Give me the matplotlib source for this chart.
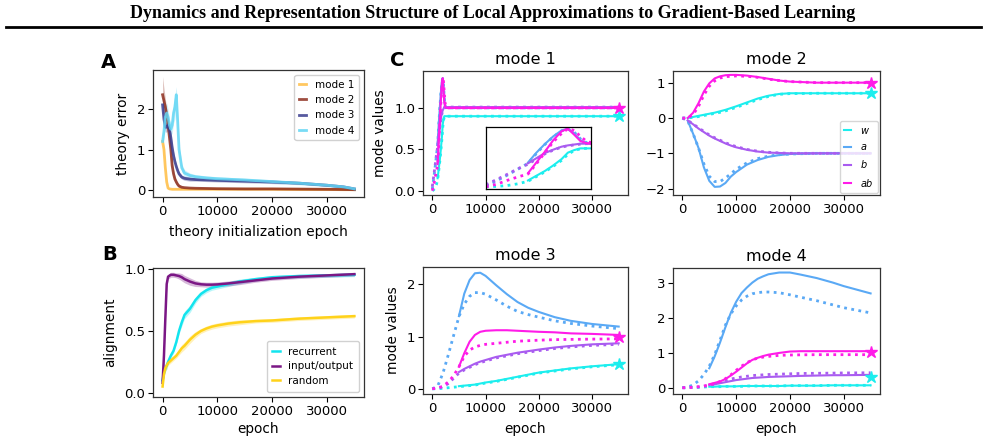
import matplotlib
matplotlib.use("Agg")
import matplotlib.pyplot as plt
from matplotlib.lines import Line2D
import numpy as np

# ---------------- data ----------------
# Panel A: theory error vs theory initialization epoch
epochs_A = [0, 250, 500, 750, 1000, 1250, 1500, 1750, 2000, 2250, 2500, 2750, 3000,
            3500, 4000, 5000, 6000, 8000, 10000, 15000, 20000, 25000, 30000, 33000, 35000]
err_mode1 = [1.2, 1.0, 0.55, 0.2, 0.05, 0.03, 0.025, 0.02, 0.02, 0.02, 0.02, 0.02, 0.02,
             0.02, 0.02, 0.02, 0.02, 0.02, 0.02, 0.02, 0.02, 0.015, 0.015, 0.01, 0.01]
err_mode2 = [2.35, 2.2, 2.05, 1.85, 1.6, 1.3, 1.0, 0.6, 0.4, 0.27, 0.2, 0.14, 0.1,
             0.07, 0.06, 0.05, 0.045, 0.04, 0.035, 0.03, 0.03, 0.025, 0.02, 0.015, 0.01]
err_mode3 = [2.1, 1.75, 1.55, 1.55, 1.6, 1.5, 1.3, 1.05, 0.85, 0.7, 0.58, 0.48, 0.4,
             0.32, 0.29, 0.27, 0.26, 0.25, 0.24, 0.22, 0.2, 0.17, 0.12, 0.08, 0.03]
err_mode4 = [1.2, 1.45, 1.8, 1.9, 1.8, 1.6, 1.5, 1.6, 1.9, 2.05, 2.35, 1.7, 1.0,
             0.55, 0.42, 0.36, 0.33, 0.3, 0.28, 0.25, 0.21, 0.17, 0.12, 0.08, 0.03]
sd_mode1 = [0.1, 0.1, 0.08, 0.05, 0.02, 0.01, 0.01, 0.01, 0.01, 0.01, 0.01, 0.01, 0.01,
            0.01, 0.01, 0.01, 0.01, 0.01, 0.01, 0.01, 0.01, 0.01, 0.01, 0.01, 0.01]
sd_mode2 = [0.45, 0.3, 0.2, 0.15, 0.15, 0.15, 0.15, 0.12, 0.1, 0.08, 0.06, 0.05, 0.04,
            0.03, 0.02, 0.02, 0.02, 0.02, 0.02, 0.02, 0.02, 0.02, 0.02, 0.02, 0.01]
sd_mode3 = [0.2, 0.15, 0.12, 0.12, 0.12, 0.12, 0.12, 0.1, 0.1, 0.09, 0.08, 0.07, 0.06,
            0.05, 0.05, 0.05, 0.04, 0.04, 0.04, 0.04, 0.04, 0.03, 0.03, 0.02, 0.02]
sd_mode4 = [0.15, 0.2, 0.25, 0.25, 0.2, 0.15, 0.15, 0.2, 0.25, 0.3, 0.2, 0.2, 0.15,
            0.1, 0.08, 0.06, 0.05, 0.05, 0.05, 0.04, 0.04, 0.04, 0.03, 0.03, 0.02]
modes_A = ["mode 1", "mode 2", "mode 3", "mode 4"]

# Panel B: alignment vs epoch
epochs_B = [0, 250, 500, 750, 1000, 1500, 2000, 2500, 3000, 3500, 4000, 5000, 6000, 7000,
            8000, 9000, 10000, 12000, 14000, 17000, 20000, 25000, 30000, 35000]
align_recurrent = [0.1, 0.16, 0.2, 0.22, 0.25, 0.3, 0.34, 0.41, 0.5, 0.57, 0.63, 0.68, 0.75,
                   0.8, 0.83, 0.85, 0.86, 0.88, 0.9, 0.92, 0.935, 0.945, 0.95, 0.955]
align_inout = [0.08, 0.3, 0.6, 0.88, 0.94, 0.955, 0.955, 0.95, 0.945, 0.935, 0.92, 0.9, 0.885,
               0.878, 0.875, 0.875, 0.877, 0.885, 0.895, 0.91, 0.925, 0.94, 0.95, 0.96]
align_random = [0.05, 0.15, 0.2, 0.22, 0.24, 0.26, 0.28, 0.3, 0.33, 0.36, 0.38, 0.43, 0.47,
                0.5, 0.52, 0.535, 0.545, 0.56, 0.57, 0.58, 0.585, 0.6, 0.61, 0.62]
align_sd = [0.02, 0.03, 0.03, 0.03, 0.02, 0.02, 0.02, 0.02, 0.025, 0.03, 0.03, 0.03, 0.025,
            0.02, 0.02, 0.02, 0.02, 0.02, 0.02, 0.015, 0.015, 0.015, 0.015, 0.015]
series_B = ["recurrent", "input/output", "random"]

# Panel C: mode values (theory = dotted, from epoch 0; simulation = solid)
var_names = ["w", "a", "b", "ab"]

m1_ep_th = [0, 250, 500, 750, 1000, 1200, 1400, 1600, 1800, 1950, 2100, 2250, 2400, 2600, 3000, 35000]
m1_th = {
    "w":  [0.0, 0.01, 0.03, 0.07, 0.13, 0.24, 0.35, 0.48, 0.62, 0.76, 0.85, 0.89, 0.9, 0.9, 0.9, 0.9],
    "a":  [0.02, 0.14, 0.27, 0.41, 0.55, 0.78, 0.99, 1.17, 1.31, 1.35, 1.28, 1.12, 1.03, 1.0, 1.0, 1.0],
    "b":  [0.05, 0.17, 0.29, 0.42, 0.53, 0.65, 0.77, 0.86, 0.93, 0.96, 0.98, 1.0, 1.01, 1.01, 1.01, 1.01],
    "ab": [0.0, 0.06, 0.15, 0.23, 0.3, 0.54, 0.8, 1.05, 1.25, 1.36, 1.32, 1.18, 1.06, 1.01, 1.0, 1.0],
}
m1_ep_sim = [1000, 1200, 1400, 1600, 1800, 1950, 2100, 2250, 2400, 2600, 3000, 35000]
m1_sim = {
    "w":  [0.15, 0.26, 0.37, 0.5, 0.65, 0.8, 0.86, 0.9, 0.9, 0.9, 0.9, 0.9],
    "a":  [0.57, 0.8, 1.0, 1.18, 1.32, 1.36, 1.25, 1.09, 1.02, 1.0, 1.0, 1.0],
    "b":  [0.55, 0.67, 0.79, 0.87, 0.94, 0.97, 0.99, 1.01, 1.01, 1.01, 1.01, 1.01],
    "ab": [0.32, 0.57, 0.82, 1.09, 1.3, 1.36, 1.22, 1.07, 1.02, 1.0, 1.0, 1.0],
}
m1_target = {"w": 0.9, "ab": 1.0}

m2_ep_th = [0, 1000, 2000, 3000, 4000, 5000, 6000, 7000, 8000, 9000, 10000, 12000, 14000,
            16000, 18000, 20000, 25000, 30000, 35000]
m2_th = {
    "w":  [0.0, 0.0, 0.02, 0.04, 0.07, 0.1, 0.13, 0.16, 0.2, 0.25, 0.3, 0.41, 0.52, 0.61, 0.67, 0.69, 0.7, 0.7, 0.7],
    "a":  [0.0, -0.08, -0.45, -0.85, -1.3, -1.65, -1.8, -1.8, -1.7, -1.58, -1.45, -1.27, -1.15, -1.08, -1.04, -1.02, -1.0, -1.0, -1.0],
    "b":  [0.0, -0.07, -0.17, -0.28, -0.38, -0.48, -0.56, -0.63, -0.7, -0.76, -0.81, -0.89, -0.94, -0.97, -0.99, -1.0, -1.0, -1.0, -1.0],
    "ab": [0.0, 0.0, 0.1, 0.33, 0.65, 0.9, 1.05, 1.13, 1.17, 1.18, 1.19, 1.18, 1.15, 1.1, 1.06, 1.03, 1.0, 1.0, 1.0],
}
m2_ep_sim = [1000, 2000, 3000, 4000, 5000, 6000, 7000, 8000, 9000, 10000, 12000, 14000,
             16000, 18000, 20000, 25000, 30000, 35000]
m2_sim = {
    "w":  [0.0, 0.03, 0.06, 0.09, 0.12, 0.15, 0.19, 0.23, 0.28, 0.33, 0.44, 0.55, 0.63, 0.68, 0.7, 0.7, 0.7, 0.7],
    "a":  [-0.08, -0.45, -0.85, -1.4, -1.78, -1.95, -1.94, -1.84, -1.66, -1.53, -1.32, -1.19, -1.1, -1.05, -1.02, -1.0, -1.0, -1.0],
    "b":  [-0.07, -0.18, -0.3, -0.4, -0.5, -0.58, -0.65, -0.72, -0.78, -0.83, -0.9, -0.95, -0.98, -0.99, -1.0, -1.0, -1.0, -1.0],
    "ab": [0.0, 0.15, 0.42, 0.75, 0.98, 1.12, 1.18, 1.21, 1.22, 1.22, 1.2, 1.16, 1.11, 1.06, 1.03, 1.0, 1.0, 1.0],
}
m2_target = {"w": 0.7, "ab": 1.0}

m3_ep_th = [0, 1000, 2000, 3000, 4000, 5000, 6000, 7000, 8000, 9000, 10000, 12000, 14000,
            16000, 18000, 20000, 23000, 26000, 30000, 35000]
m3_th = {
    "w":  [0.0, 0.0, 0.01, 0.02, 0.03, 0.04, 0.05, 0.06, 0.07, 0.09, 0.11, 0.14, 0.18, 0.22, 0.26, 0.3, 0.34, 0.38, 0.42, 0.46],
    "a":  [0.0, 0.05, 0.3, 0.65, 1.02, 1.38, 1.62, 1.77, 1.84, 1.84, 1.81, 1.7, 1.58, 1.48, 1.42, 1.37, 1.3, 1.25, 1.2, 1.15],
    "b":  [0.0, 0.01, 0.04, 0.1, 0.2, 0.3, 0.36, 0.41, 0.46, 0.5, 0.53, 0.59, 0.63, 0.67, 0.7, 0.73, 0.77, 0.8, 0.83, 0.85],
    "ab": [0.0, 0.01, 0.05, 0.13, 0.25, 0.42, 0.62, 0.74, 0.8, 0.83, 0.85, 0.87, 0.89, 0.91, 0.92, 0.93, 0.94, 0.945, 0.95, 0.955],
}
m3_ep_sim = [5000, 6000, 7000, 8000, 9000, 10000, 12000, 14000, 16000, 18000, 20000, 23000,
             26000, 30000, 35000]
m3_sim = {
    "w":  [0.05, 0.06, 0.07, 0.08, 0.1, 0.12, 0.15, 0.19, 0.23, 0.27, 0.31, 0.35, 0.39, 0.43, 0.47],
    "a":  [1.39, 1.82, 2.08, 2.21, 2.22, 2.16, 1.98, 1.81, 1.66, 1.55, 1.47, 1.37, 1.3, 1.24, 1.19],
    "b":  [0.32, 0.38, 0.43, 0.48, 0.52, 0.55, 0.61, 0.65, 0.69, 0.72, 0.75, 0.79, 0.82, 0.85, 0.87],
    "ab": [0.42, 0.68, 0.9, 1.03, 1.09, 1.11, 1.12, 1.12, 1.11, 1.1, 1.09, 1.08, 1.06, 1.05, 1.03],
}
m3_target = {"w": 0.48, "ab": 1.0}

m4_ep_th = [0, 1000, 2000, 3000, 4000, 5000, 6000, 7000, 8000, 9000, 10000, 11000, 12000,
            13000, 14000, 15000, 16000, 18000, 20000, 22000, 25000, 28000, 30000, 35000]
m4_th = {
    "w":  [0.0, 0.0, 0.01, 0.01, 0.02, 0.03, 0.03, 0.03, 0.04, 0.04, 0.04, 0.04, 0.05, 0.05, 0.05, 0.05, 0.05, 0.05, 0.06, 0.06, 0.06, 0.07, 0.07, 0.07],
    "a":  [0.0, 0.02, 0.08, 0.2, 0.38, 0.62, 0.95, 1.37, 1.8, 2.12, 2.35, 2.52, 2.63, 2.7, 2.73, 2.75, 2.75, 2.73, 2.67, 2.6, 2.5, 2.38, 2.3, 2.15],
    "b":  [0.0, 0.0, 0.01, 0.02, 0.04, 0.07, 0.11, 0.16, 0.21, 0.25, 0.28, 0.31, 0.33, 0.35, 0.36, 0.37, 0.38, 0.39, 0.4, 0.41, 0.415, 0.42, 0.425, 0.43],
    "ab": [0.0, 0.0, 0.02, 0.03, 0.05, 0.08, 0.12, 0.18, 0.26, 0.37, 0.5, 0.62, 0.72, 0.8, 0.85, 0.88, 0.9, 0.93, 0.94, 0.945, 0.95, 0.95, 0.95, 0.95],
}
m4_ep_sim = [5000, 6000, 7000, 8000, 9000, 10000, 11000, 12000, 13000, 14000, 15000, 16000,
             18000, 20000, 22000, 25000, 28000, 30000, 35000]
m4_sim = {
    "w":  [0.03, 0.03, 0.04, 0.04, 0.04, 0.04, 0.05, 0.05, 0.05, 0.05, 0.05, 0.05, 0.05, 0.06, 0.06, 0.06, 0.07, 0.07, 0.07],
    "a":  [0.56, 0.9, 1.3, 1.74, 2.15, 2.47, 2.72, 2.88, 3.02, 3.13, 3.2, 3.26, 3.31, 3.31, 3.25, 3.15, 3.02, 2.92, 2.71],
    "b":  [0.08, 0.1, 0.13, 0.16, 0.19, 0.22, 0.24, 0.26, 0.28, 0.29, 0.3, 0.31, 0.32, 0.33, 0.34, 0.35, 0.36, 0.36, 0.37],
    "ab": [0.1, 0.14, 0.18, 0.25, 0.35, 0.46, 0.58, 0.7, 0.8, 0.86, 0.91, 0.95, 1.0, 1.04, 1.05, 1.05, 1.05, 1.05, 1.05],
}
m4_target = {"w": 0.3, "ab": 1.02}

target_epoch = 35000

# ---------------- styles ----------------
colors_A = ["#FFBE45", "#8E2F1F", "#3A3D8E", "#62D6F4"]
colors_B = ["#12E4EE", "#7B1785", "#FFD21A"]
colors_C = {"w": "#1CEEEE", "a": "#5AA9F5", "b": "#A95CF0", "ab": "#FF1BE8"}
labels_C = {"w": "$w$", "a": "$a$", "b": "$b$", "ab": "$ab$"}

W, H = 985, 443
fig = plt.figure(figsize=(W / 100, H / 100), dpi=100)


def rect(x0, y0, x1, y1):
    return [x0 / W, 1 - y1 / H, (x1 - x0) / W, (y1 - y0) / H]


TICK_FS = 9.5
LAB_FS = 9.8
XLIM = (-1750, 36750)
XT = [0, 10000, 20000, 30000]

# header
fig.text(0.5, 1 - 13 / H,
         "Dynamics and Representation Structure of Local Approximations to Gradient-Based Learning",
         ha="center", va="center", fontfamily="Liberation Serif", fontweight="bold", fontsize=13)
fig.add_artist(Line2D([6 / W, 981 / W], [1 - 27 / H, 1 - 27 / H], color="black", lw=2))

# panel letters
for letter, (px, py) in zip("ABC", [(108, 62), (110, 255), (397, 60)]):
    fig.text(px / W, 1 - py / H, letter, ha="center", va="center",
             fontsize=14, fontweight="heavy", fontfamily="DejaVu Sans")


def style(ax):
    ax.tick_params(labelsize=TICK_FS, length=3.5, width=0.8, pad=2)
    ax.set_xlim(*XLIM)
    ax.set_xticks(XT)
    for s in ax.spines.values():
        s.set_linewidth(0.9)
        s.set_color("#333333")


# ---- Panel A ----
axA = fig.add_axes(rect(153, 70, 364, 197))
errs = [err_mode1, err_mode2, err_mode3, err_mode4]
sds = [sd_mode1, sd_mode2, sd_mode3, sd_mode4]
for i in range(4):
    m = np.array(errs[i]); s = np.array(sds[i])
    axA.fill_between(epochs_A, m - s, m + s, color=colors_A[i], alpha=0.3, lw=0)
    axA.plot(epochs_A, m, color=colors_A[i], lw=2, alpha=0.85, label=modes_A[i])
style(axA)
axA.set_ylim(-0.17, 2.96)
axA.set_yticks([0, 1, 2])
axA.set_ylabel("theory error", fontsize=LAB_FS, labelpad=5)
axA.set_xlabel("theory initialization epoch", fontsize=LAB_FS, labelpad=5)
axA.legend(loc="upper right", fontsize=7.5, handlelength=0.7, handletextpad=0.8,
           borderpad=0.45, labelspacing=0.5, framealpha=0.9)

# ---- Panel B ----
axB = fig.add_axes(rect(153, 268, 364, 397))
aligns = [align_recurrent, align_inout, align_random]
sdB = np.array(align_sd)
for i in range(3):
    m = np.array(aligns[i])
    axB.fill_between(epochs_B, m - sdB, m + sdB, color=colors_B[i], alpha=0.3, lw=0)
    axB.plot(epochs_B, m, color=colors_B[i], lw=1.8, label=series_B[i])
style(axB)
axB.set_ylim(-0.035, 1.01)
axB.set_yticks([0.0, 0.5, 1.0])
axB.set_ylabel("alignment", fontsize=LAB_FS, labelpad=5)
axB.set_xlabel("epoch", fontsize=LAB_FS, labelpad=3.5)
axB.legend(loc="lower right", fontsize=7.5, handlelength=0.7, handletextpad=0.8,
           borderpad=0.55, labelspacing=0.45, framealpha=0.9)


# ---- Panel C ----
def draw_mode(ax, ep_th, th, ep_sim, sim, target, show_stars=True):
    for v in var_names:
        ax.plot(ep_th, th[v], color=colors_C[v], lw=2, linestyle=(0, (1, 1.6)))
        ax.plot(ep_sim, sim[v], color=colors_C[v], lw=1.5, label=labels_C[v])
    if show_stars:
        for v in ["w", "ab"]:
            ax.plot([target_epoch], [target[v]], marker="*", color=colors_C[v],
                    markersize=9, linestyle="none")


axC1 = fig.add_axes(rect(423, 71, 628, 195))
draw_mode(axC1, m1_ep_th, m1_th, m1_ep_sim, m1_sim, m1_target)
style(axC1)
axC1.set_ylim(-0.052, 1.446)
axC1.set_yticks([0.0, 0.5, 1.0])
axC1.set_ylabel("mode values", fontsize=LAB_FS, labelpad=5)
axC1.set_title("mode 1", fontsize=11.5, pad=5)

axIn = fig.add_axes(rect(486, 127, 591, 189))
draw_mode(axIn, m1_ep_th, m1_th, m1_ep_sim, m1_sim, m1_target, show_stars=False)
axIn.set_xlim(0, 2500)
axIn.set_ylim(-0.05, 1.4)
axIn.set_xticks([]); axIn.set_yticks([])
for s in axIn.spines.values():
    s.set_linewidth(0.9)

axC2 = fig.add_axes(rect(673, 71, 880, 195))
draw_mode(axC2, m2_ep_th, m2_th, m2_ep_sim, m2_sim, m2_target)
style(axC2)
axC2.set_ylim(-2.18, 1.33)
axC2.set_yticks([-2, -1, 0, 1])
axC2.set_title("mode 2", fontsize=11.5, pad=5)
axC2.legend(loc="lower right", fontsize=7, handlelength=0.7, handletextpad=0.9,
            borderpad=0.45, labelspacing=0.65, framealpha=0.8, borderaxespad=0.2)

axC3 = fig.add_axes(rect(423, 267, 628, 394))
draw_mode(axC3, m3_ep_th, m3_th, m3_ep_sim, m3_sim, m3_target)
style(axC3)
axC3.set_ylim(-0.1, 2.33)
axC3.set_yticks([0, 1, 2])
axC3.set_ylabel("mode values", fontsize=LAB_FS, labelpad=5)
axC3.set_xlabel("epoch", fontsize=LAB_FS, labelpad=5)
axC3.set_title("mode 3", fontsize=11.5, pad=5)

axC4 = fig.add_axes(rect(673, 268, 880, 394))
draw_mode(axC4, m4_ep_th, m4_th, m4_ep_sim, m4_sim, m4_target)
style(axC4)
axC4.set_ylim(-0.18, 3.44)
axC4.set_yticks([0, 1, 2, 3])
axC4.set_xlabel("epoch", fontsize=LAB_FS, labelpad=5)
axC4.set_title("mode 4", fontsize=11.5, pad=5)

fig.savefig("out.png", dpi=100)
